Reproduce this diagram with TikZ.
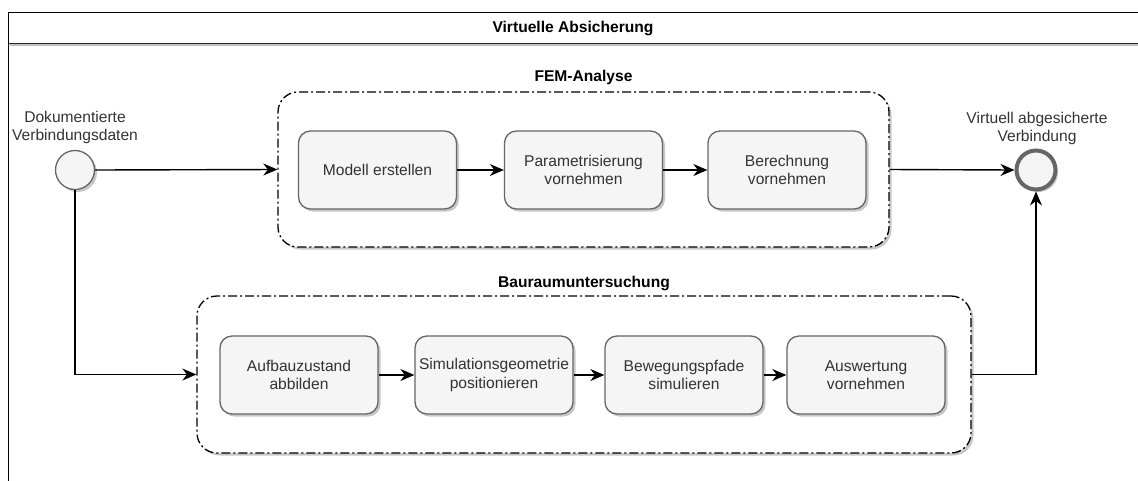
\documentclass[tikz,border=0pt]{standalone}
\usepackage{fontspec}
\setmainfont{Liberation Sans}
\usetikzlibrary{arrows.meta,shadows}
\definecolor{boxfill}{HTML}{F5F5F5}
\definecolor{boxline}{HTML}{666666}
\definecolor{textgray}{HTML}{333333}

\begin{document}
\begin{tikzpicture}[x=1pt,y=-1pt,
  every node/.style={font=\fontsize{15.6}{18.5}\selectfont},
  softshadow/.style={drop shadow={shadow xshift=2.5pt, shadow yshift=-2.5pt, opacity=0.22, fill=black}},
  stepbox/.style={draw=boxline, line width=1.3pt, fill=boxfill, rounded corners=12pt,
    minimum width=158pt, minimum height=78pt, inner sep=0pt, align=center,
    text=textgray, softshadow},
  groupbox/.style={draw=black, line width=1.3pt, dash pattern=on 9pt off 3pt on 2pt off 3pt,
    fill=white, rounded corners=20pt, inner sep=0pt, softshadow},
  grouptitle/.style={font=\fontsize{15.6}{18.5}\selectfont\bfseries},
  evlabel/.style={align=center, text=textgray, inner sep=1pt},
  startev/.style={circle, draw=boxline, line width=1.3pt, fill=boxfill, minimum size=39pt,
    inner sep=0pt, softshadow},
  endev/.style={circle, draw=boxline, line width=4pt, fill=boxfill, minimum size=39pt,
    inner sep=0pt, softshadow},
  flow/.style={draw=black, line width=1.4pt, -{Stealth[length=14pt,width=12pt,inset=4.5pt]}}
]
\useasboundingbox (0,0) rectangle (1138,480);
\clip (0,0) rectangle (1138,480);

% pool frame with header
\draw[line width=1.5pt] (8.7,500) -- (8.7,12.7) -- (1160,12.7);
\draw[line width=2pt, draw=black!25] (9.5,45.3) -- (1160,45.3);
\draw[line width=1.3pt, draw=black!85] (8.7,43.3) -- (1160,43.3);
\node[grouptitle] (pooltitle) at (573,28) {Virtuelle Absicherung};

% sub-process containers
\node[groupbox, minimum width=611pt, minimum height=155pt] (fem) at (583.5,169.5) {};
\node[grouptitle] (femtitle) at (583.5,77) {FEM-Analyse};
\node[groupbox, minimum width=774pt, minimum height=157pt] (bau) at (584,374.5) {};
\node[grouptitle] (bautitle) at (584,283) {Bauraumuntersuchung};

% FEM steps
\node[stepbox] (f1) at (377.5,170) {Modell erstellen};
\node[stepbox] (f2) at (583.5,170) {Parametrisierung\\vornehmen};
\node[stepbox] (f3) at (787,170) {Berechnung\\vornehmen};

% installation-space steps
\node[stepbox] (b1) at (299,375) {Aufbauzustand\\abbilden};
\node[stepbox] (b2) at (494,375) {Simulationsgeometrie\\positionieren};
\node[stepbox] (b3) at (684,375) {Bewegungspfade\\simulieren};
\node[stepbox] (b4) at (866,375) {Auswertung\\vornehmen};

% events
\node[startev] (start) at (75,170) {};
\node[evlabel] (startlbl) at (75,127.5) {Dokumentierte\\Verbindungsdaten};
\node[endev] (finish) at (1036,170) {};
\node[evlabel] (finishlbl) at (1037,128.5) {Virtuell abgesicherte\\Verbindung};

% flows
\draw[flow] (start.east) -- (fem.west);
\draw[flow] (start.south) |- (bau.west);
\draw[flow] (f1) -- (f2);
\draw[flow] (f2) -- (f3);
\draw[flow] (b1) -- (b2);
\draw[flow] (b2) -- (b3);
\draw[flow] (b3) -- (b4);
\draw[flow] (fem.east) -- (finish.west);
\draw[flow] (bau.east) -| (finish.south);
\end{tikzpicture}
\end{document}
